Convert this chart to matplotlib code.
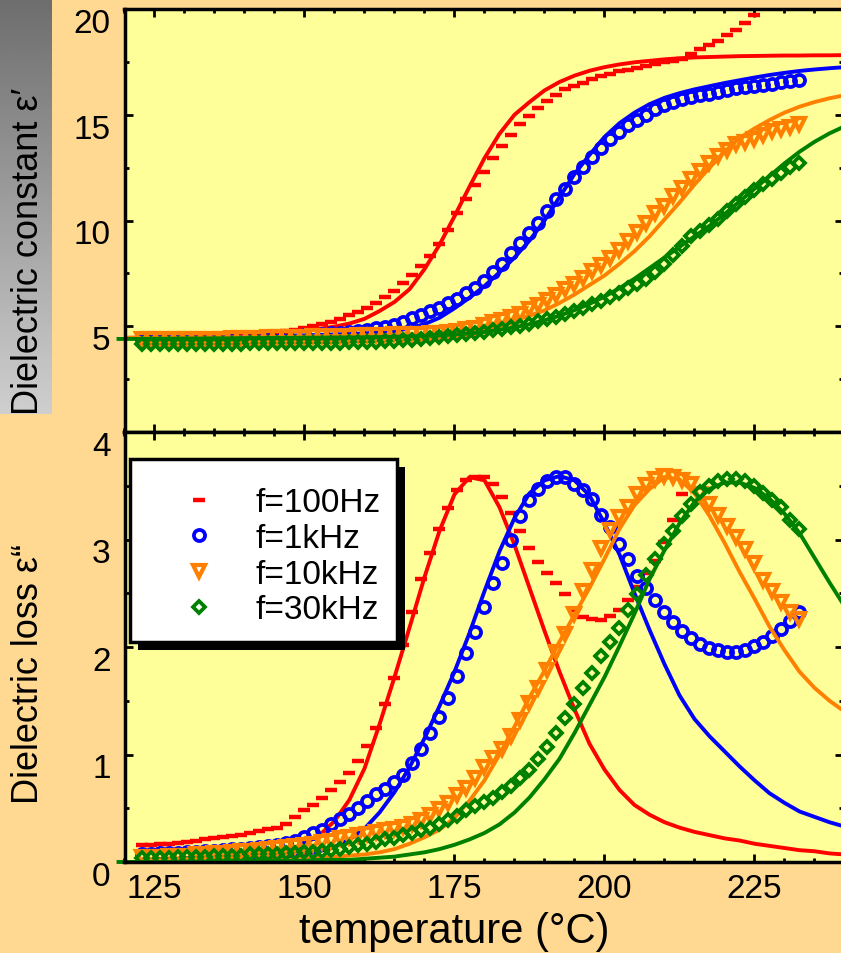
import numpy as np
import matplotlib
matplotlib.use('Agg')
import matplotlib.pyplot as plt
import matplotlib.transforms as mtransforms
from matplotlib.patches import Rectangle
from matplotlib.ticker import MultipleLocator

plt.rcParams['font.family'] = ['Liberation Sans', 'DejaVu Sans']

# measured temperatures (deg C) and temperatures of the fitted curves
t_meas = [123.0, 124.5, 126.0, 127.5, 129.0, 130.5, 132.0, 133.5, 135.0, 136.5,
          138.0, 139.5, 141.0, 142.5, 144.0, 145.5, 147.0, 148.5, 150.0, 151.5,
          153.0, 154.5, 156.0, 157.5, 159.0, 160.5, 162.0, 163.5, 165.0, 166.5,
          168.0, 169.5, 171.0, 172.5, 174.0, 175.5, 177.0, 178.5, 180.0, 181.5,
          183.0, 184.5, 186.0, 187.5, 189.0, 190.5, 192.0, 193.5, 195.0, 196.5,
          198.0, 199.5, 201.0, 202.5, 204.0, 205.5, 207.0, 208.5, 210.0, 211.5,
          213.0, 214.5, 216.0, 217.5, 219.0, 220.5, 222.0, 223.5, 225.0, 226.5,
          228.0, 229.5, 231.0, 232.5]
t_fit = [120.0, 122.5, 125.0, 127.5, 130.0, 132.5, 135.0, 137.5, 140.0, 142.5,
         145.0, 147.5, 150.0, 152.5, 155.0, 157.5, 160.0, 162.5, 165.0, 167.5,
         170.0, 172.5, 175.0, 177.5, 180.0, 182.5, 185.0, 187.5, 190.0, 192.5,
         195.0, 197.5, 200.0, 202.5, 205.0, 207.5, 210.0, 212.5, 215.0, 217.5,
         220.0, 222.5, 225.0, 227.5, 230.0, 232.5, 235.0, 237.5, 240.0]
t_fit_30k = [119.0] + t_fit

freq_labels = ['f=100Hz', 'f=1kHz', 'f=10kHz', 'f=30kHz']

# dielectric constant eps' (measured)
eps1_100Hz = [4.50, 4.50, 4.51, 4.52, 4.53, 4.54, 4.55, 4.56, 4.58, 4.60,
              4.62, 4.64, 4.66, 4.68, 4.70, 4.72, 4.76, 4.82, 4.90, 4.99,
              5.10, 5.22, 5.36, 5.52, 5.66, 5.85, 6.10, 6.38, 6.68, 7.05,
              7.40, 7.85, 8.30, 8.90, 9.55, 10.35, 11.00, 11.70, 12.30, 12.95,
              13.50, 14.05, 14.55, 14.95, 15.30, 15.65, 15.95, 16.20, 16.35, 16.50,
              16.68, 16.85, 16.93, 17.05, 17.13, 17.22, 17.30, 17.40, 17.48, 17.55,
              17.63, 17.85, 18.10, 18.28, 18.50, 18.75, 19.00, 19.35, 19.70]
eps1_1kHz = [4.40, 4.40, 4.41, 4.41, 4.42, 4.42, 4.43, 4.43, 4.44, 4.45,
             4.46, 4.47, 4.48, 4.49, 4.50, 4.52, 4.54, 4.56, 4.58, 4.60,
             4.63, 4.66, 4.69, 4.72, 4.76, 4.82, 4.90, 4.98, 5.08, 5.20,
             5.40, 5.55, 5.70, 5.88, 6.08, 6.30, 6.55, 6.80, 7.15, 7.55,
             7.95, 8.45, 8.95, 9.40, 9.90, 10.45, 11.00, 11.50, 12.05, 12.55,
             13.00, 13.45, 13.87, 14.20, 14.50, 14.75, 15.00, 15.25, 15.45, 15.62,
             15.75, 15.85, 15.92, 15.98, 16.07, 16.17, 16.25, 16.31, 16.37, 16.42,
             16.46, 16.53, 16.60, 16.66]
eps1_10kHz = [4.38, 4.38, 4.39, 4.39, 4.40, 4.40, 4.41, 4.41, 4.42, 4.42,
              4.43, 4.44, 4.45, 4.46, 4.47, 4.48, 4.49, 4.50, 4.51, 4.52,
              4.53, 4.54, 4.55, 4.56, 4.57, 4.58, 4.59, 4.60, 4.61, 4.62,
              4.63, 4.65, 4.67, 4.69, 4.72, 4.78, 4.86, 4.93, 5.05, 5.18,
              5.30, 5.46, 5.60, 5.80, 6.00, 6.22, 6.50, 6.75, 7.00, 7.30,
              7.60, 7.90, 8.25, 8.60, 9.05, 9.45, 9.90, 10.35, 10.70, 11.15,
              11.55, 11.95, 12.35, 12.70, 13.05, 13.35, 13.60, 13.73, 13.85, 14.05,
              14.22, 14.33, 14.43, 14.56]
eps1_30kHz = [4.16, 4.16, 4.16, 4.16, 4.17, 4.17, 4.17, 4.17, 4.18, 4.18,
              4.18, 4.18, 4.19, 4.19, 4.19, 4.20, 4.20, 4.20, 4.21, 4.21,
              4.22, 4.22, 4.23, 4.24, 4.25, 4.26, 4.27, 4.28, 4.30, 4.33,
              4.36, 4.40, 4.44, 4.49, 4.54, 4.59, 4.64, 4.69, 4.74, 4.81,
              4.88, 4.95, 5.03, 5.13, 5.24, 5.35, 5.46, 5.57, 5.72, 5.88,
              6.04, 6.20, 6.37, 6.58, 6.80, 7.02, 7.23, 7.58, 7.95, 8.35,
              8.80, 9.25, 9.50, 9.80, 10.07, 10.45, 10.80, 11.10, 11.45, 11.72,
              11.98, 12.25, 12.52, 12.72]

# dielectric constant eps' (fit)
eps1_100Hz_fit = [4.45, 4.46, 4.46, 4.47, 4.47, 4.48, 4.50, 4.52, 4.55, 4.60,
                  4.66, 4.74, 4.80, 4.88, 4.98, 5.13, 5.35, 5.72, 6.15, 6.75,
                  7.70, 8.85, 10.20, 11.60, 12.95, 14.10, 15.00, 15.60, 16.15, 16.55,
                  16.85, 17.08, 17.25, 17.38, 17.48, 17.55, 17.62, 17.67, 17.71, 17.73,
                  17.75, 17.77, 17.78, 17.79, 17.80, 17.80, 17.81, 17.81, 17.82]
eps1_1kHz_fit = [4.45, 4.45, 4.46, 4.46, 4.47, 4.47, 4.48, 4.49, 4.50, 4.51,
                 4.53, 4.55, 4.57, 4.59, 4.61, 4.63, 4.66, 4.71, 4.78, 4.90,
                 5.10, 5.40, 5.85, 6.35, 6.90, 7.55, 8.25, 9.05, 10.00, 11.10,
                 12.20, 13.10, 13.95, 14.60, 15.10, 15.50, 15.80, 16.02, 16.20, 16.35,
                 16.50, 16.63, 16.76, 16.88, 16.98, 17.07, 17.14, 17.20, 17.25]
eps1_10kHz_fit = [4.45, 4.45, 4.45, 4.46, 4.46, 4.46, 4.47, 4.47, 4.48, 4.48,
                  4.49, 4.50, 4.51, 4.52, 4.53, 4.54, 4.55, 4.56, 4.57, 4.58,
                  4.60, 4.62, 4.67, 4.76, 4.90, 5.08, 5.28, 5.50, 5.75, 6.10,
                  6.50, 6.95, 7.40, 7.95, 8.55, 9.25, 10.05, 10.85, 11.70, 12.50,
                  13.25, 13.90, 14.35, 14.75, 15.10, 15.38, 15.60, 15.78, 15.92]
eps1_30kHz_fit = [4.40,
                  4.40, 4.40, 4.41, 4.41, 4.42, 4.42, 4.43, 4.43, 4.44, 4.44,
                  4.45, 4.45, 4.46, 4.46, 4.47, 4.47, 4.48, 4.49, 4.50, 4.52,
                  4.54, 4.57, 4.61, 4.66, 4.73, 4.83, 4.95, 5.10, 5.28, 5.50,
                  5.76, 6.06, 6.40, 6.80, 7.25, 7.75, 8.25, 8.75, 9.25, 9.75,
                  10.30, 10.90, 11.50, 12.10, 12.70, 13.25, 13.72, 14.12, 14.45]

# dielectric loss eps'' (measured)
eps2_100Hz = [0.16, 0.16, 0.17, 0.17, 0.18, 0.19, 0.20, 0.21, 0.22, 0.23,
              0.24, 0.25, 0.27, 0.29, 0.31, 0.32, 0.35, 0.42, 0.48, 0.53,
              0.60, 0.67, 0.74, 0.83, 0.94, 1.08, 1.25, 1.47, 1.71, 2.02,
              2.33, 2.63, 2.87, 3.10, 3.29, 3.46, 3.55, 3.58, 3.58, 3.52,
              3.40, 3.25, 3.08, 2.92, 2.79, 2.69, 2.60, 2.49, 2.34, 2.28,
              2.26, 2.25, 2.29, 2.34, 2.44, 2.56, 2.69, 2.80, 2.98, 3.18,
              3.42]
eps2_1kHz = [0.07, 0.07, 0.08, 0.08, 0.08, 0.09, 0.09, 0.10, 0.10, 0.11,
             0.12, 0.12, 0.13, 0.14, 0.15, 0.16, 0.18, 0.20, 0.23, 0.27,
             0.30, 0.35, 0.40, 0.45, 0.50, 0.57, 0.63, 0.68, 0.74, 0.81,
             0.92, 1.05, 1.20, 1.35, 1.53, 1.73, 1.94, 2.14, 2.37, 2.60,
             2.78, 3.00, 3.22, 3.37, 3.47, 3.54, 3.58, 3.58, 3.52, 3.46,
             3.38, 3.23, 3.12, 2.96, 2.82, 2.66, 2.55, 2.44, 2.33, 2.23,
             2.15, 2.08, 2.03, 1.99, 1.97, 1.95, 1.95, 1.97, 2.01, 2.05,
             2.10, 2.17, 2.24, 2.33]
eps2_10kHz = [0.05, 0.05, 0.05, 0.06, 0.06, 0.06, 0.07, 0.07, 0.08, 0.08,
              0.09, 0.10, 0.10, 0.11, 0.12, 0.13, 0.14, 0.15, 0.16, 0.17,
              0.19, 0.20, 0.22, 0.23, 0.25, 0.26, 0.28, 0.30, 0.31, 0.33,
              0.35, 0.39, 0.44, 0.49, 0.55, 0.62, 0.69, 0.78, 0.88, 0.97,
              1.05, 1.17, 1.32, 1.48, 1.62, 1.79, 1.95, 2.12, 2.31, 2.52,
              2.72, 2.92, 3.09, 3.21, 3.30, 3.42, 3.51, 3.56, 3.59, 3.58,
              3.55, 3.52, 3.42, 3.33, 3.23, 3.13, 3.02, 2.91, 2.78, 2.62,
              2.52, 2.42, 2.33, 2.26]
eps2_30kHz = [0.04, 0.04, 0.04, 0.04, 0.05, 0.05, 0.05, 0.05, 0.06, 0.06,
              0.06, 0.06, 0.07, 0.07, 0.07, 0.07, 0.08, 0.08, 0.09, 0.09,
              0.10, 0.11, 0.12, 0.14, 0.16, 0.17, 0.19, 0.21, 0.22, 0.25,
              0.27, 0.30, 0.32, 0.35, 0.39, 0.43, 0.48, 0.52, 0.56, 0.60,
              0.65, 0.71, 0.78, 0.86, 0.96, 1.07, 1.20, 1.34, 1.47, 1.62,
              1.76, 1.92, 2.05, 2.18, 2.34, 2.49, 2.67, 2.82, 2.96, 3.08,
              3.22, 3.33, 3.44, 3.50, 3.54, 3.56, 3.56, 3.54, 3.50, 3.43,
              3.37, 3.30, 3.18, 3.10]

# dielectric loss eps'' (fit)
eps2_100Hz_fit = [0.00, 0.00, 0.00, 0.00, 0.01, 0.01, 0.01, 0.02, 0.03, 0.04,
                  0.07, 0.11, 0.17, 0.25, 0.38, 0.58, 0.87, 1.28, 1.72, 2.18,
                  2.65, 3.08, 3.42, 3.58, 3.55, 3.30, 2.95, 2.55, 2.15, 1.77,
                  1.42, 1.10, 0.86, 0.67, 0.53, 0.44, 0.37, 0.32, 0.28, 0.25,
                  0.22, 0.20, 0.17, 0.15, 0.13, 0.11, 0.10, 0.08, 0.07]
eps2_1kHz_fit = [0.00, 0.00, 0.00, 0.01, 0.01, 0.01, 0.01, 0.02, 0.02, 0.03,
                 0.04, 0.05, 0.07, 0.10, 0.14, 0.21, 0.31, 0.46, 0.65, 0.88,
                 1.15, 1.45, 1.77, 2.13, 2.52, 2.89, 3.20, 3.43, 3.55, 3.59,
                 3.55, 3.41, 3.15, 2.86, 2.50, 2.16, 1.84, 1.55, 1.33, 1.17,
                 1.03, 0.89, 0.76, 0.64, 0.55, 0.47, 0.42, 0.37, 0.33]
eps2_10kHz_fit = [0.00, 0.00, 0.00, 0.00, 0.00, 0.00, 0.01, 0.01, 0.01, 0.01,
                  0.02, 0.02, 0.03, 0.04, 0.05, 0.06, 0.07, 0.09, 0.12, 0.17,
                  0.23, 0.30, 0.41, 0.57, 0.76, 1.00, 1.26, 1.53, 1.78, 2.05,
                  2.30, 2.55, 2.82, 3.10, 3.32, 3.47, 3.58, 3.56, 3.43, 3.22,
                  2.97, 2.70, 2.45, 2.19, 1.97, 1.77, 1.62, 1.50, 1.40]
eps2_30kHz_fit = [0.00,
                  0.00, 0.00, 0.00, 0.00, 0.00, 0.00, 0.00, 0.00, 0.01, 0.01,
                  0.01, 0.01, 0.01, 0.02, 0.02, 0.02, 0.03, 0.04, 0.05, 0.07,
                  0.09, 0.12, 0.16, 0.21, 0.27, 0.35, 0.46, 0.60, 0.77, 0.96,
                  1.20, 1.46, 1.72, 2.01, 2.31, 2.63, 2.90, 3.15, 3.35, 3.47,
                  3.53, 3.53, 3.48, 3.38, 3.24, 3.06, 2.83, 2.60, 2.38]

colors = ['#FF0000', '#0000FF', '#FF8000', '#008000']
markers = ['_', 'o', 'v', 'D']
msizes = [8.5, 8.0, 8.5, 6.5]
mews = [3.2, 2.7, 3.0, 2.7]

W, H = 841.0, 954.0


def px_box(x0, y0, x1, y1):
    # pixel box (top-left origin) -> figure fraction rect
    return [x0 / W, 1 - y1 / H, (x1 - x0) / W, (y1 - y0) / H]


fig = plt.figure(figsize=(W / 100, H / 100), dpi=100)
fig.patch.set_facecolor('#FFD892')

# grey gradient behind the upper y label
gax = fig.add_axes(px_box(0, 0, 52, 415))
gax.imshow(np.linspace(0.43, 0.81, 256)[:, None], cmap='gray', vmin=0, vmax=1,
           aspect='auto')
gax.axis('off')

ax1 = fig.add_axes(px_box(124.5, 10, 843, 433))
ax2 = fig.add_axes(px_box(124.5, 433, 843, 863))

panels = [
    (ax1, [eps1_100Hz, eps1_1kHz, eps1_10kHz, eps1_30kHz],
     [eps1_100Hz_fit, eps1_1kHz_fit, eps1_10kHz_fit, eps1_30kHz_fit]),
    (ax2, [eps2_100Hz, eps2_1kHz, eps2_10kHz, eps2_30kHz],
     [eps2_100Hz_fit, eps2_1kHz_fit, eps2_10kHz_fit, eps2_30kHz_fit]),
]

for ax, meas, fits in panels:
    ax.set_facecolor('#FFFF99')
    for i in range(4):
        y = meas[i]
        ax.plot(t_meas[:len(y)], y, ls='none', marker=markers[i], ms=msizes[i],
                mew=mews[i], mec=colors[i], mfc='none', label=freq_labels[i])
        tf = t_fit_30k if i == 3 else t_fit
        ax.plot(tf, fits[i], color=colors[i], lw=2.8, clip_on=(i != 3))
    ax.set_xlim(120, 239.75)
    ax.xaxis.set_major_locator(MultipleLocator(25))
    ax.xaxis.set_minor_locator(MultipleLocator(5))
    ax.tick_params(which='both', direction='in', top=True, right=True,
                   width=2.0, labelsize=24)
    ax.tick_params(which='major', length=6)
    ax.tick_params(which='minor', length=3)
    ax.tick_params(axis='y', pad=10)
    ax.tick_params(axis='x', pad=8)
    for s in ax.spines.values():
        s.set_linewidth(2.5)

ax1.set_ylim(0, 20)
ax1.set_yticks([0, 5, 10, 15, 20], ['', '5', '10', '15', '20'])
ax1.yaxis.set_minor_locator(MultipleLocator(2.5))
ax1.tick_params(labelbottom=False)

ax2.set_ylim(0, 4)
ax2.set_yticks([0, 1, 2, 3, 4])
ax2.yaxis.set_minor_locator(MultipleLocator(0.5))

# y tick labels sit a little below their ticks in the original
shift = mtransforms.ScaledTranslation(0, -11 / 100, fig.dpi_scale_trans)
for ax in (ax1, ax2):
    for lab in ax.get_yticklabels():
        lab.set_transform(lab.get_transform() + shift)

fig.text(29 / W, 1 - 251 / H, 'Dielectric constant \u03b5\u2032', rotation=90,
         ha='center', va='center', fontsize=26)
fig.text(29 / W, 1 - 674 / H, 'Dielectric loss \u03b5\u201c', rotation=90,
         ha='center', va='center', fontsize=26)
fig.text(454 / W, 1 - 932 / H, 'temperature (\u00b0C)', ha='center', va='center',
         fontsize=30)

# blank small title pushes the entries down inside the frame
leg = ax2.legend(loc='upper left', bbox_to_anchor=(5.5 / 718.5, (863 - 460) / 430),
                 borderaxespad=0, fontsize=24, frameon=True, fancybox=False,
                 edgecolor='black', framealpha=1, borderpad=0.5, handlelength=3.15,
                 handletextpad=0.12, labelspacing=0.14, numpoints=1,
                 title=' ', title_fontsize=6)
leg.get_frame().set_linewidth(2.5)

# hard black drop shadow under the legend
fig.canvas.draw()
bb = leg.get_window_extent(fig.canvas.get_renderer())
shadow = Rectangle((bb.x0 + 8, bb.y0 - 8), bb.width, bb.height, facecolor='black',
                   edgecolor='none', transform=mtransforms.IdentityTransform(),
                   zorder=4.9)
ax2.add_artist(shadow)

fig.savefig('out.png', dpi=100, facecolor=fig.get_facecolor())
